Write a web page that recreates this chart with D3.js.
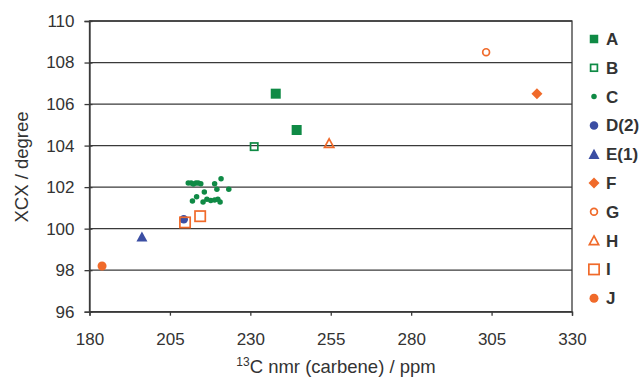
<!DOCTYPE html>
<html>
<head>
<meta charset="utf-8">
<script src="https://cdn.jsdelivr.net/npm/d3@7"></script>
<style>
  body { margin: 0; background: #fff; }
  text { font-family: "Liberation Sans", Arial, sans-serif; fill: #333; }
</style>
</head>
<body>
<svg width="644" height="382"></svg>
<script>
// data
const xTicks = [180, 205, 230, 255, 280, 305, 330];
const yTicks = [96, 98, 100, 102, 104, 106, 108, 110];

const seriesA = [[237.9, 106.5], [244.4, 104.75]];
const seriesB = [[231.2, 103.95]];
const seriesC = [
  [210.7, 102.2], [211.6, 102.2], [212.3, 102.15], [213.1, 102.2], [213.8, 102.2],
  [214.6, 102.16], [218.9, 102.16], [220.9, 102.4], [219.6, 101.9], [223.3, 101.9],
  [215.7, 101.76], [213.3, 101.54], [212.0, 101.33], [215.3, 101.28], [216.5, 101.41],
  [217.7, 101.36], [218.9, 101.38], [219.9, 101.41], [220.6, 101.28]
];
const seriesD = [[209.3, 100.45]];
const seriesE = [[196.3, 99.6]];
const seriesF = [[319.1, 106.5]];
const seriesG = [[303.3, 108.5]];
const seriesH = [[254.5, 104.1]];
const seriesI = [[209.7, 100.3], [214.4, 100.6]];
const seriesJ = [[183.9, 98.2]];

const green = '#0f8a45', blue = '#3b4ea3', orange = '#f06a2a';

const series = [
  { name: 'A', data: seriesA, shape: 'square', fill: true, color: green, size: 10 },
  { name: 'B', data: seriesB, shape: 'square', fill: false, color: green, size: 9 },
  { name: 'C', data: seriesC, shape: 'circle', fill: true, color: green, size: 5.5 },
  { name: 'D(2)', data: seriesD, shape: 'circle', fill: true, color: blue, size: 8.5 },
  { name: 'E(1)', data: seriesE, shape: 'triangle', fill: true, color: blue, size: 11 },
  { name: 'F', data: seriesF, shape: 'diamond', fill: true, color: orange, size: 11 },
  { name: 'G', data: seriesG, shape: 'circle', fill: false, color: orange, size: 8.5 },
  { name: 'H', data: seriesH, shape: 'triangle', fill: false, color: orange, size: 11 },
  { name: 'I', data: seriesI, shape: 'square', fill: false, color: orange, size: 12 },
  { name: 'J', data: seriesJ, shape: 'circle', fill: true, color: orange, size: 9 }
];

const margin = { top: 21, right: 72, bottom: 70, left: 89.5 };
const width = 644, height = 382;
const w = width - margin.left - margin.right;
const h = 311.7 - margin.top;

const svg = d3.select('svg');
const g = svg.append('g')
  .attr('transform', 'translate(' + margin.left + ',' + margin.top + ')');

const x = d3.scaleLinear().domain([180, 330]).range([0, w]);
const y = d3.scaleLinear().domain([96, 110]).range([h, 0]);

// gridlines
g.selectAll('.grid')
  .data(yTicks)
  .enter()
  .append('line')
  .attr('x1', 0).attr('x2', w)
  .attr('y1', d => y(d)).attr('y2', d => y(d))
  .attr('stroke', '#3a3a3a')
  .attr('stroke-width', 1.3);

// frame
g.append('rect')
  .attr('width', w).attr('height', h)
  .attr('fill', 'none')
  .attr('stroke', '#3a3a3a')
  .attr('stroke-width', 1.3);

// axes
const xAxis = g.append('g')
  .attr('transform', 'translate(0,' + h + ')')
  .call(d3.axisBottom(x).tickValues(xTicks).tickSize(4).tickPadding(17));
const yAxis = g.append('g')
  .call(d3.axisLeft(y).tickValues(yTicks).tickSize(5).tickPadding(10));

[xAxis, yAxis].forEach(a => {
  a.select('.domain').attr('stroke', '#3a3a3a').attr('stroke-width', 1.3);
  a.selectAll('.tick line').attr('stroke', '#3a3a3a').attr('stroke-width', 1.3);
  a.selectAll('.tick text')
    .style('font-family', '"Liberation Sans", Arial, sans-serif')
    .style('font-size', '17px')
    .attr('fill', '#333');
});
// y ticks cross the axis
yAxis.selectAll('.tick line').attr('x1', 3);

// axis titles
svg.append('text')
  .attr('transform', 'translate(28,167) rotate(-90)')
  .attr('text-anchor', 'middle')
  .style('font-size', '18.5px')
  .text('XCX / degree');

const xt = svg.append('text')
  .attr('x', 336)
  .attr('y', 373)
  .attr('text-anchor', 'middle')
  .style('font-size', '18.5px');
xt.append('tspan').attr('dy', '-7').style('font-size', '12px').text('13');
xt.append('tspan').attr('dy', '7').text('C nmr (carbene) / ppm');

function drawMarker(sel, s) {
  const r = s.size / 2;
  const sw = s.fill ? 0 : 1.7;
  let m;
  if (s.shape === 'square') {
    m = sel.append('rect')
      .attr('x', -r + sw / 2).attr('y', -r + sw / 2)
      .attr('width', s.size - sw).attr('height', s.size - sw);
  } else if (s.shape === 'circle') {
    m = sel.append('circle').attr('r', r - sw / 2);
  } else if (s.shape === 'triangle') {
    const t = r - sw / 2;
    m = sel.append('path')
      .attr('d', 'M0,' + (-t) + 'L' + t + ',' + (t * 0.85) + 'L' + (-t) + ',' + (t * 0.85) + 'Z');
  } else {
    m = sel.append('path')
      .attr('d', 'M0,' + (-r) + 'L' + r + ',0L0,' + r + 'L' + (-r) + ',0Z');
  }
  m.attr('fill', s.fill ? s.color : 'none')
    .attr('stroke', s.fill ? 'none' : s.color)
    .attr('stroke-width', sw);
}

// points
series.forEach(s => {
  g.selectAll(null)
    .data(s.data)
    .enter()
    .append('g')
    .attr('transform', d => 'translate(' + x(d[0]) + ',' + y(d[1]) + ')')
    .each(function () { drawMarker(d3.select(this), s); });
});

// legend
const legend = svg.append('g').attr('transform', 'translate(594,39)');
series.forEach((s, i) => {
  const item = legend.append('g').attr('transform', 'translate(0,' + (i * 28.8) + ')');
  const ls = Object.assign({}, s, { size: s.name === 'A' || s.name === 'B' ? 8.5 : s.size });
  drawMarker(item, ls);
  item.append('text')
    .attr('x', 12)
    .attr('y', 6)
    .style('font-size', '17px')
    .style('font-weight', 'bold')
    .text(s.name);
});
</script>
</body>
</html>
